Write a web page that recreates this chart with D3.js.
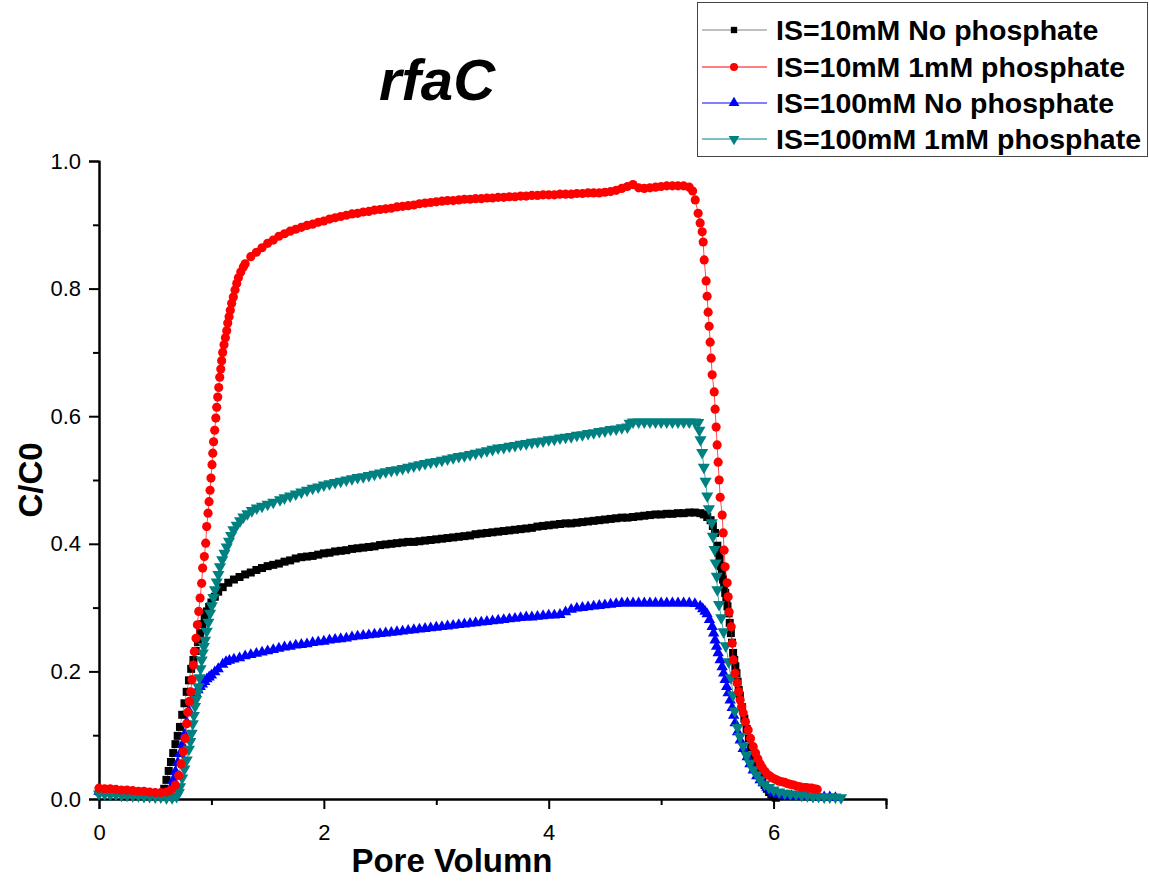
<!DOCTYPE html>
<html lang="en">
<head>
<meta charset="UTF-8">
<title>rfaC</title>
<script src="https://d3js.org/d3.v7.min.js"></script>
<style>
  body { margin: 0; background: #fff; }
  svg { font-family: "Liberation Sans", Arial, sans-serif; }
  .axis path, .axis line { stroke: #000; stroke-width: 2; fill: none; }
</style>
</head>
<body>
<script>
// chart size and plot box
var w = 1149, h = 881;
var plotLeft = 99, plotRight = 886, plotTop = 161, plotBottom = 799;

// series values: [pore volume, C/C0]
var blackData = [
  [0,0.012],[0.05,0.012],[0.1,0.011],[0.15,0.011],[0.2,0.011],[0.25,0.010],[0.3,0.010],[0.35,0.010],[0.4,0.009],[0.45,0.009],[0.5,0.009],[0.55,0.009],
  [0.58,0.016],[0.60,0.030],[0.62,0.044],[0.64,0.058],[0.66,0.072],[0.68,0.086],[0.70,0.099],[0.72,0.113],[0.74,0.132],[0.76,0.150],[0.78,0.168],[0.80,0.186],
  [0.82,0.204],[0.84,0.218],[0.86,0.232],[0.88,0.246],[0.90,0.260],[0.92,0.274],[0.94,0.285],[0.96,0.294],[0.98,0.301],[1.00,0.308],[1.03,0.317],[1.06,0.325],
  [1.10,0.332],[1.15,0.339],[1.20,0.344],[1.25,0.348],[1.30,0.352],[1.35,0.355],[1.40,0.359],[1.45,0.362],[1.50,0.365],[1.55,0.367],[1.60,0.369],[1.65,0.372],
  [1.70,0.374],[1.75,0.377],[1.80,0.379],[1.85,0.380],[1.90,0.381],[1.95,0.383],[2.00,0.385],[2.05,0.386],[2.10,0.388],[2.15,0.389],[2.20,0.390],[2.25,0.392],
  [2.30,0.393],[2.35,0.394],[2.40,0.395],[2.45,0.396],[2.50,0.398],[2.55,0.399],[2.60,0.400],[2.65,0.401],[2.70,0.402],[2.75,0.403],[2.80,0.403],[2.85,0.404],
  [2.90,0.405],[2.95,0.406],[3.00,0.407],[3.05,0.408],[3.10,0.409],[3.15,0.410],[3.20,0.411],[3.25,0.412],[3.30,0.413],[3.35,0.415],[3.40,0.416],[3.45,0.417],
  [3.50,0.418],[3.55,0.419],[3.60,0.420],[3.65,0.421],[3.70,0.422],[3.75,0.423],[3.80,0.424],[3.85,0.425],[3.90,0.427],[3.95,0.428],[4.00,0.429],[4.05,0.430],
  [4.10,0.431],[4.15,0.432],[4.20,0.432],[4.25,0.433],[4.30,0.434],[4.35,0.435],[4.40,0.436],[4.45,0.437],[4.50,0.438],[4.55,0.439],[4.60,0.440],[4.65,0.441],
  [4.70,0.441],[4.75,0.442],[4.80,0.443],[4.85,0.444],[4.90,0.445],[4.95,0.446],[5.00,0.446],[5.05,0.447],[5.10,0.447],[5.15,0.448],[5.20,0.448],[5.25,0.449],
  [5.30,0.449],[5.35,0.448],[5.38,0.446],[5.41,0.442],[5.44,0.437],[5.46,0.428],[5.48,0.417],[5.50,0.397],[5.51,0.386],[5.52,0.376],[5.53,0.365],[5.54,0.354],
  [5.55,0.344],[5.56,0.333],[5.57,0.323],[5.58,0.312],[5.59,0.302],[5.60,0.291],[5.61,0.276],[5.62,0.260],[5.63,0.245],[5.64,0.229],[5.65,0.218],[5.66,0.208],
  [5.67,0.197],[5.68,0.184],[5.69,0.171],[5.70,0.162],[5.72,0.144],[5.74,0.126],[5.76,0.110],[5.78,0.095],[5.80,0.081],[5.82,0.068],[5.84,0.056],[5.86,0.046],
  [5.88,0.037],[5.90,0.029],[5.92,0.022],[5.94,0.016],[5.96,0.011],[5.98,0.007],[6.00,0.004],[6.02,0.002]
];

var redData = [
  [0,0.017],[0.05,0.016],[0.1,0.016],[0.15,0.015],[0.2,0.014],[0.25,0.014],[0.3,0.013],[0.35,0.012],[0.4,0.012],[0.45,0.011],[0.5,0.010],[0.55,0.010],
  [0.60,0.011],[0.64,0.014],[0.68,0.022],[0.71,0.037],[0.73,0.055],[0.75,0.074],[0.765,0.095],[0.78,0.118],[0.79,0.136],
  [0.804,0.153],[0.816,0.168],[0.827,0.187],[0.839,0.210],[0.848,0.231],[0.863,0.252],[0.875,0.273],[0.887,0.294],[0.899,0.315],[0.913,0.338],[0.922,0.362],
  [0.937,0.380],[0.949,0.401],[0.958,0.427],[0.970,0.448],[0.979,0.466],[0.988,0.484],[0.996,0.503],[1.005,0.524],[1.012,0.542],[1.019,0.560],[1.029,0.578],
  [1.039,0.597],[1.047,0.614],[1.056,0.630],[1.065,0.645],[1.074,0.661],[1.083,0.674],[1.091,0.687],[1.100,0.700],[1.112,0.712],[1.124,0.723],[1.136,0.734],
  [1.145,0.746],[1.157,0.756],[1.168,0.766],[1.180,0.777],[1.195,0.787],[1.210,0.798],[1.225,0.808],[1.240,0.817],[1.261,0.826],[1.284,0.834],
  [1.30,0.839],[1.35,0.850],[1.40,0.857],[1.45,0.864],[1.50,0.871],[1.55,0.876],[1.60,0.882],[1.65,0.886],[1.70,0.890],[1.75,0.893],[1.80,0.896],[1.85,0.899],
  [1.90,0.901],[1.95,0.904],[2.00,0.906],[2.05,0.909],[2.10,0.911],[2.15,0.913],[2.20,0.915],[2.25,0.917],[2.30,0.918],[2.35,0.920],[2.40,0.921],[2.45,0.923],
  [2.50,0.924],[2.55,0.925],[2.60,0.926],[2.65,0.928],[2.70,0.929],[2.75,0.930],[2.80,0.931],[2.85,0.933],[2.90,0.934],[2.95,0.935],[3.00,0.936],[3.05,0.937],
  [3.10,0.938],[3.15,0.938],[3.20,0.939],[3.25,0.940],[3.30,0.940],[3.35,0.941],[3.40,0.941],[3.45,0.942],[3.50,0.942],[3.55,0.943],[3.60,0.943],[3.65,0.944],
  [3.70,0.944],[3.75,0.945],[3.80,0.945],[3.85,0.946],[3.90,0.946],[3.95,0.947],[4.00,0.947],[4.05,0.947],[4.10,0.948],[4.15,0.948],[4.20,0.948],[4.25,0.949],
  [4.30,0.949],[4.35,0.950],[4.40,0.950],[4.45,0.950],[4.50,0.951],[4.55,0.952],[4.60,0.954],[4.65,0.957],[4.70,0.960],[4.75,0.963],[4.80,0.958],[4.85,0.957],
  [4.90,0.958],[4.95,0.959],[5.00,0.960],[5.05,0.961],[5.10,0.961],[5.15,0.961],[5.20,0.961],[5.25,0.959],[5.28,0.953],[5.303,0.939],[5.329,0.918],
  [5.347,0.903],[5.365,0.889],[5.374,0.873],[5.383,0.845],[5.400,0.812],[5.409,0.788],[5.418,0.763],[5.427,0.741],[5.436,0.716],[5.445,0.691],[5.454,0.665],
  [5.472,0.638],[5.480,0.611],[5.489,0.583],[5.498,0.555],[5.507,0.528],[5.516,0.500],[5.525,0.473],[5.543,0.445],[5.552,0.417],[5.560,0.390],[5.569,0.364],
  [5.587,0.339],[5.596,0.317],[5.605,0.293],[5.623,0.270],[5.632,0.244],[5.641,0.218],[5.658,0.197],[5.676,0.182],[5.690,0.168],[5.703,0.155],[5.716,0.145],
  [5.730,0.135],[5.750,0.121],[5.774,0.108],[5.795,0.095],[5.819,0.082],[5.840,0.072],[5.860,0.063],[5.881,0.055],[5.900,0.049],[5.925,0.043],[5.950,0.038],
  [5.975,0.035],[6.000,0.032],[6.025,0.030],[6.050,0.028],[6.075,0.027],[6.100,0.026],[6.125,0.024],[6.150,0.023],[6.180,0.022],[6.210,0.020],[6.237,0.019],
  [6.265,0.018],[6.290,0.018],[6.315,0.017],[6.340,0.017],[6.365,0.016],[6.388,0.015]
];

var blueData = [
  [0,0.012],[0.05,0.011],[0.1,0.011],[0.15,0.010],[0.2,0.010],[0.25,0.009],[0.3,0.009],[0.35,0.008],[0.4,0.008],[0.45,0.007],[0.5,0.007],[0.55,0.007],[0.60,0.007],
  [0.62,0.010],[0.64,0.018],[0.66,0.030],[0.68,0.043],[0.70,0.057],[0.72,0.071],[0.74,0.085],[0.76,0.101],[0.78,0.120],[0.80,0.138],[0.82,0.152],[0.84,0.160],
  [0.86,0.166],[0.88,0.171],[0.90,0.176],[0.92,0.180],[0.94,0.184],[0.96,0.188],[0.98,0.191],[1.00,0.194],[1.03,0.199],[1.06,0.204],[1.10,0.211],[1.13,0.215],
  [1.16,0.217],[1.20,0.219],[1.25,0.221],[1.30,0.224],[1.35,0.226],[1.40,0.228],[1.45,0.230],[1.50,0.232],[1.55,0.234],[1.60,0.236],[1.65,0.238],[1.70,0.239],
  [1.75,0.241],[1.80,0.242],[1.85,0.243],[1.90,0.245],[1.95,0.246],[2.00,0.247],[2.05,0.249],[2.10,0.250],[2.15,0.251],[2.20,0.252],[2.25,0.254],[2.30,0.255],
  [2.35,0.256],[2.40,0.257],[2.45,0.258],[2.50,0.259],[2.55,0.260],[2.60,0.261],[2.65,0.262],[2.70,0.263],[2.75,0.264],[2.80,0.265],[2.85,0.266],[2.90,0.267],
  [2.95,0.268],[3.00,0.269],[3.05,0.270],[3.10,0.271],[3.15,0.272],[3.20,0.273],[3.25,0.274],[3.30,0.275],[3.35,0.276],[3.40,0.277],[3.45,0.278],[3.50,0.279],
  [3.55,0.280],[3.60,0.281],[3.65,0.282],[3.70,0.283],[3.75,0.284],[3.80,0.285],[3.85,0.285],[3.90,0.286],[3.95,0.287],[4.00,0.288],[4.05,0.288],[4.10,0.289],
  [4.15,0.293],[4.20,0.297],[4.25,0.299],[4.30,0.300],[4.35,0.301],[4.40,0.302],[4.45,0.303],[4.50,0.304],[4.55,0.305],[4.60,0.306],[4.65,0.307],[4.70,0.307],
  [4.75,0.307],[4.80,0.307],[4.85,0.307],[4.90,0.307],[4.95,0.307],[5.00,0.307],[5.05,0.307],[5.10,0.307],[5.15,0.307],[5.20,0.307],[5.25,0.307],[5.30,0.306],
  [5.347,0.302],[5.37,0.298],[5.39,0.294],[5.409,0.290],[5.43,0.281],[5.454,0.270],[5.467,0.260],[5.480,0.249],[5.493,0.239],[5.507,0.229],[5.525,0.218],
  [5.543,0.207],[5.556,0.197],[5.569,0.187],[5.583,0.176],[5.596,0.166],[5.614,0.155],[5.632,0.143],[5.645,0.131],[5.658,0.119],[5.68,0.105],[5.703,0.092],
  [5.73,0.079],[5.765,0.066],[5.79,0.055],[5.819,0.045],[5.85,0.036],[5.88,0.030],[5.907,0.025],[5.94,0.018],[5.97,0.013],[5.996,0.009],[6.04,0.007],[6.08,0.006],
  [6.12,0.005],[6.16,0.005],[6.20,0.004],[6.25,0.004],[6.30,0.004],[6.35,0.003],[6.40,0.003],[6.45,0.003],[6.50,0.003],[6.55,0.002]
];

var tealData = [
  [0,0.008],[0.05,0.008],[0.1,0.007],[0.15,0.007],[0.2,0.006],[0.25,0.006],[0.3,0.005],[0.35,0.005],[0.4,0.004],[0.45,0.004],[0.5,0.003],[0.55,0.003],[0.6,0.002],
  [0.65,0.002],[0.69,0.004],[0.71,0.010],[0.721,0.019],[0.74,0.033],[0.76,0.047],[0.78,0.061],[0.80,0.078],[0.812,0.090],[0.824,0.103],[0.834,0.118],[0.844,0.131],
  [0.854,0.145],[0.864,0.156],[0.874,0.166],[0.884,0.176],[0.894,0.190],[0.903,0.204],[0.913,0.218],[0.923,0.229],[0.933,0.239],[0.943,0.249],[0.958,0.263],
  [0.973,0.277],[0.988,0.291],[1.003,0.303],[1.018,0.316],[1.032,0.328],[1.047,0.340],[1.062,0.352],[1.076,0.364],[1.096,0.375],[1.116,0.385],[1.136,0.395],
  [1.156,0.404],[1.175,0.413],[1.195,0.422],[1.225,0.429],[1.255,0.436],[1.284,0.442],[1.32,0.447],[1.36,0.452],[1.403,0.456],[1.45,0.459],[1.50,0.462],
  [1.55,0.465],[1.61,0.469],[1.65,0.472],[1.70,0.475],[1.75,0.478],[1.80,0.481],[1.85,0.484],[1.90,0.487],[1.95,0.489],[2.00,0.492],[2.05,0.494],[2.10,0.496],
  [2.15,0.498],[2.20,0.500],[2.25,0.502],[2.30,0.504],[2.35,0.505],[2.40,0.507],[2.45,0.509],[2.50,0.511],[2.55,0.513],[2.60,0.515],[2.65,0.516],[2.70,0.518],
  [2.75,0.520],[2.80,0.522],[2.85,0.524],[2.90,0.526],[2.95,0.528],[3.00,0.529],[3.05,0.531],[3.10,0.533],[3.15,0.535],[3.20,0.537],[3.25,0.538],[3.30,0.540],
  [3.35,0.542],[3.40,0.544],[3.45,0.546],[3.50,0.548],[3.55,0.550],[3.60,0.551],[3.65,0.553],[3.70,0.554],[3.75,0.556],[3.80,0.557],[3.85,0.559],[3.90,0.560],
  [3.95,0.561],[4.00,0.563],[4.05,0.564],[4.10,0.566],[4.15,0.567],[4.20,0.568],[4.25,0.570],[4.30,0.571],[4.35,0.573],[4.40,0.574],[4.45,0.576],[4.50,0.577],
  [4.55,0.579],[4.60,0.580],[4.65,0.582],[4.70,0.583],[4.72,0.589],[4.75,0.591],[4.80,0.591],[4.85,0.591],[4.90,0.591],[4.95,0.591],[5.00,0.591],[5.05,0.591],
  [5.10,0.591],[5.15,0.591],[5.20,0.591],[5.25,0.591],[5.30,0.591],[5.33,0.590],[5.34,0.578],[5.35,0.563],[5.365,0.543],[5.38,0.520],[5.395,0.498],[5.41,0.475],
  [5.425,0.455],[5.45,0.433],[5.46,0.412],[5.475,0.391],[5.485,0.370],[5.495,0.349],[5.50,0.328],[5.515,0.305],[5.535,0.284],[5.555,0.262],[5.575,0.240],
  [5.60,0.215],[5.62,0.190],[5.64,0.163],[5.655,0.138],[5.68,0.112],[5.70,0.098],[5.73,0.083],[5.76,0.068],[5.79,0.056],[5.82,0.046],[5.85,0.038],[5.88,0.030],
  [5.92,0.023],[5.96,0.018],[6.00,0.014],[6.05,0.011],[6.10,0.009],[6.15,0.008],[6.20,0.007],[6.25,0.006],[6.30,0.005],[6.35,0.004],[6.40,0.004],[6.45,0.003],
  [6.50,0.003],[6.55,0.003],[6.60,0.002]
];

var legendLabels = ["IS=10mM No phosphate", "IS=10mM 1mM phosphate", "IS=100mM No phosphate", "IS=100mM 1mM phosphate"];
var xMajorTicks = [0, 2, 4, 6];
var xMinorTicks = [1, 3, 5, 7];
var yMajorTicks = [0, 0.2, 0.4, 0.6, 0.8, 1.0];
var yMinorTicks = [0.1, 0.3, 0.5, 0.7, 0.9];

var series = [
  { name: legendLabels[0], data: blackData, color: "#000000", line: "#808080", symbol: d3.symbolSquare, size: 64, legSize: 40, rot: 0 },
  { name: legendLabels[1], data: redData, color: "#ff0000", line: "#ff0000", symbol: d3.symbolCircle, size: 66, legSize: 50, rot: 0 },
  { name: legendLabels[2], data: blueData, color: "#0000ff", line: "#0000ff", symbol: d3.symbolTriangle, size: 56, legSize: 50, rot: 0 },
  { name: legendLabels[3], data: tealData, color: "#008080", line: "#008080", symbol: d3.symbolTriangle, size: 64, legSize: 50, rot: 180 }
];
var drawOrder = [0, 2, 3, 1];

var svg = d3.select("body").append("svg").attr("width", w).attr("height", h);
svg.append("rect").attr("width", w).attr("height", h).attr("fill", "#fff");

var xScale = d3.scaleLinear().domain([0, 7]).range([plotLeft, plotRight]);
var yScale = d3.scaleLinear().domain([0, 1]).range([plotBottom, plotTop]);

// axes: major with labels, minor shorter
svg.append("g").classed("axis", true)
  .attr("transform", `translate(0,${plotBottom})`)
  .call(d3.axisBottom(xScale).tickValues(xMajorTicks).tickSize(10).tickPadding(15).tickFormat(d3.format("d")));
svg.append("g").classed("axis", true)
  .attr("transform", `translate(0,${plotBottom})`)
  .call(d3.axisBottom(xScale).tickValues(xMinorTicks).tickSize(6).tickSizeOuter(0).tickFormat(""));
svg.append("g").classed("axis", true)
  .attr("transform", `translate(${plotLeft},0)`)
  .call(d3.axisLeft(yScale).tickValues(yMajorTicks).tickSize(10).tickPadding(8).tickFormat(d3.format(".1f")));
svg.append("g").classed("axis", true)
  .attr("transform", `translate(${plotLeft},0)`)
  .call(d3.axisLeft(yScale).tickValues(yMinorTicks).tickSize(6).tickSizeOuter(0).tickFormat(""));
svg.selectAll(".axis text")
  .attr("font-size", 22)
  .attr("font-family", "'Liberation Sans', Arial, sans-serif")
  .attr("fill", "#000");

// curves
var line = d3.line().x(d => xScale(d[0])).y(d => yScale(d[1]));
drawOrder.forEach(function (i) {
  var s = series[i];
  var g = svg.append("g");
  g.append("path").datum(s.data)
    .attr("d", line).attr("fill", "none")
    .attr("stroke", s.line).attr("stroke-width", 1).attr("stroke-opacity", 0.7);
  g.selectAll("path.pt").data(s.data).enter().append("path")
    .attr("class", "pt")
    .attr("d", d3.symbol().type(s.symbol).size(s.size))
    .attr("transform", d => `translate(${xScale(d[0])},${yScale(d[1])}) rotate(${s.rot})`)
    .attr("fill", s.color);
});

// title and axis labels
svg.append("text").attr("x", 437).attr("y", 100).attr("text-anchor", "middle")
  .attr("font-size", 58).attr("font-weight", "bold").attr("font-style", "italic").text("rfaC");
svg.append("text").attr("x", 452).attr("y", 872).attr("text-anchor", "middle")
  .attr("font-size", 33).attr("font-weight", "bold").text("Pore Volumn");
svg.append("text").attr("transform", "translate(42,480) rotate(-90)").attr("text-anchor", "middle")
  .attr("font-size", 33).attr("font-weight", "bold").text("C/C0");

// legend
var legend = svg.append("g");
legend.append("rect").attr("x", 697.5).attr("y", 2.5).attr("width", 450).attr("height", 154)
  .attr("fill", "#fff").attr("stroke", "#444").attr("stroke-width", 1);
var rowsY = [30, 67, 103, 139];
series.forEach(function (s, i) {
  var y = rowsY[i];
  legend.append("line").attr("x1", 702).attr("x2", 767).attr("y1", y).attr("y2", y)
    .attr("stroke", s.line).attr("stroke-width", 1);
  legend.append("path").attr("d", d3.symbol().type(s.symbol).size(s.legSize))
    .attr("transform", `translate(734,${y}) rotate(${s.rot})`).attr("fill", s.color);
  legend.append("text").attr("x", 776).attr("y", y + 10)
    .attr("font-size", 28.5).attr("font-weight", "bold").text(s.name);
});
</script>
</body>
</html>
